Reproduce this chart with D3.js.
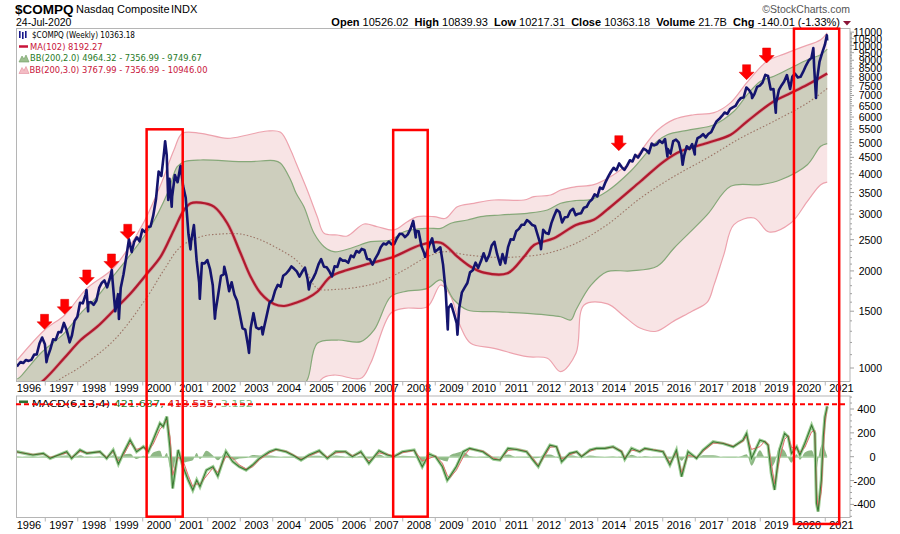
<!DOCTYPE html>
<html><head><meta charset="utf-8">
<script src="https://cdn.jsdelivr.net/npm/d3@7"></script>
<style>
body{margin:0;background:#fff}
svg{display:block}
text{font-family:"Liberation Sans",Arial,sans-serif}
.lg{font-family:"DejaVu Sans",Verdana,sans-serif;font-size:8.5px}
</style>
</head><body><svg id="c" width="900" height="534"></svg>
<script>
// ---------------- DATA ----------------
const yearTicks = d3.range(1996, 2022);
const priceTicks = d3.range(1000, 11001, 500);
const macdTicks = [-400, -200, 0, 200, 400];

// Monthly closes starting Aug 1995 (month-end)
const monthlyClose = [
 1020,1044,1036,1059,1052,
 1060,1100,1101,1191,1243,1185,1081,1142,1227,1222,1293,1291,
 1380,1310,1222,1261,1400,1442,1594,1587,1686,1594,1601,1570,
 1619,1771,1835,1869,1779,1895,1872,1499,1694,1771,1950,2193,
 2505,2288,2461,2543,2471,2686,2638,2739,2746,2967,3336,4069,
 3940,4697,4573,3861,3401,3966,3767,4206,3673,3370,2598,2471,
 2773,2152,1840,2116,2110,2161,2027,1805,1499,1690,1931,1950,
 1934,1731,1845,1688,1616,1463,1328,1315,1172,1330,1479,1336,
 1321,1338,1341,1464,1596,1623,1735,1810,1787,1932,1960,2003,
 2066,2030,1994,1920,1987,2048,1887,1838,1897,1975,2097,2175,
 2062,2052,1999,1922,2068,2057,2185,2152,2152,2120,2233,2205,
 2306,2281,2340,2323,2179,2172,2091,2184,2258,2367,2432,2415,
 2464,2416,2422,2525,2605,2603,2546,2596,2701,2859,2661,2652,
 2389,2271,2279,2413,2523,2293,2326,2368,2092,1721,1536,1577,
 1476,1378,1529,1717,1774,1835,1979,2009,2122,2045,2145,2269,
 2147,2238,2398,2461,2257,2109,2255,2114,2369,2507,2498,2653,
 2700,2782,2781,2874,2835,2774,2756,2579,2415,2684,2620,2605,
 2814,2967,3092,3046,2827,2935,2940,3067,3116,2977,3010,3020,
 3142,3160,3268,3329,3456,3403,3626,3590,3771,3920,4060,4177,
 4104,4308,4199,4115,4243,4408,4370,4580,4493,4631,4792,4736,
 4635,4964,4901,4941,5070,4987,5128,4777,4620,5054,5109,5007,
 4614,4558,4870,4775,4948,4843,5162,5213,5312,5189,5324,5383,
 5615,5825,5912,6048,6199,6140,6348,6429,6496,6728,6874,6903,
 7411,7273,7063,7066,7442,7510,7672,8110,8046,7306,7331,6635,
 7282,7533,7729,8095,7453,8006,8175,7963,7999,8292,8665,8973,
 9151,8567,7700,8890,9490,10058
];
// Intra-month weekly extremes and last bar
const priceSpikes = [
 ["1995-08-18",1010],["1996-07-16",1043],["1997-04-02",1201],["1997-10-09",1745],["1997-10-27",1499],
 ["1998-07-20",2014],["1998-10-08",1419],["2000-03-10",5048],["2000-04-14",3321],["2000-05-23",3164],
 ["2000-09-01",4234],["2000-12-20",2332],["2001-04-04",1639],["2001-09-21",1423],["2002-01-04",2059],
 ["2002-10-09",1114],["2003-03-11",1271],["2004-08-12",1752],["2007-11-26",2540],["2008-03-10",2212],
 ["2008-11-20",1316],["2009-03-09",1268],["2010-07-02",2091],["2011-10-03",2335],["2015-08-24",4526],
 ["2016-02-11",4267],["2016-06-27",4594],["2018-04-02",6870],["2018-08-29",8109],["2018-12-24",6193],
 ["2019-06-03",7333],["2020-02-19",9817],["2020-03-20",6880],["2020-07-20",10767],["2020-07-24",10363]
];

// Bollinger bands (200,3.0), (200,2.0), 200-wk middle, MA(102): [year, value]
const bb3Upper = [[1995.64,1059],[1996.48,1312],[1997.10,1460],[1997.78,1766],[1998.54,2013],[1999.02,2322],[1999.54,2842],[2000.05,3694],[2000.46,4742],[2000.72,5342],[2001.28,5342],[2002.10,5155],[2002.72,5278],[2003.33,5431],[2003.74,5381],[2004.05,4742],[2004.22,4312],[2004.56,3564],[2004.87,2946],[2005.08,2616],[2005.49,2585],[2005.79,2566],[2006.31,2796],[2006.72,2742],[2007.23,2679],[2007.64,2842],[2007.95,2946],[2008.46,2946],[2008.82,2912],[2009.18,3163],[2009.69,3241],[2010.31,3318],[2011.23,3318],[2011.54,3398],[2012.05,3439],[2012.36,3564],[2012.83,3649],[2013.38,3702],[2014.00,3980],[2014.62,4450],[2015.33,5450],[2015.85,5900],[2016.46,6100],[2017.08,6190],[2017.59,6650],[2018.10,7700],[2018.72,8950],[2019.23,9400],[2019.74,9850],[2020.36,10423],[2020.56,10946]];
const bb2Upper = [[1995.64,924],[1995.74,940],[1996.36,1111],[1997.08,1281],[1997.59,1478],[1998.10,1664],[1998.62,1943],[1999.23,2322],[1999.74,2742],[2000.26,3481],[2000.56,4209],[2000.77,4362],[2001.28,4416],[2002.72,4362],[2003.54,4394],[2003.74,4312],[2004.05,3828],[2004.22,3481],[2004.46,3164],[2004.77,2616],[2005.08,2378],[2005.38,2294],[2005.90,2351],[2006.51,2464],[2007.13,2494],[2007.54,2646],[2008.26,2711],[2008.67,2711],[2008.98,2810],[2009.49,2877],[2009.90,2946],[2010.51,2981],[2011.33,3018],[2011.95,3090],[2012.36,3241],[2012.83,3307],[2013.28,3326],[2013.79,3531],[2014.51,4073],[2015.33,5046],[2015.64,5289],[2016.36,5482],[2017.08,5681],[2017.69,6252],[2018.10,7038],[2018.51,7745],[2018.92,8026],[2019.44,8516],[2019.95,9036],[2020.36,9365],[2020.56,9750]];
const bbMiddle = [[1995.63,768],[1997.08,940],[1997.59,1009],[1998.62,1221],[1999.64,1664],[2000.15,2013],[2000.67,2378],[2001.28,2554],[2001.90,2603],[2002.51,2603],[2003.13,2494],[2003.74,2322],[2004.22,2162],[2004.56,1966],[2004.87,1766],[2005.49,1754],[2006.21,1787],[2006.82,1852],[2007.54,2013],[2008.26,2214],[2008.77,2294],[2009.49,2241],[2010.31,2204],[2011.13,2214],[2011.95,2268],[2012.83,2436],[2013.79,2782],[2014.82,3366],[2015.85,3930],[2016.87,4479],[2017.90,5166],[2018.92,5821],[2019.95,6633],[2020.56,7357]];
const bb2Lower = [[1995.64,612],[1996.5,650],[1997.5,560],[1998.5,500],[1999.5,400],[2000.5,400],[2001.28,692],[2002.72,780],[2003.54,720],[2004.22,843],[2004.56,918],[2004.87,1193],[2005.49,1221],[2006.21,1207],[2006.62,1312],[2007.13,1664],[2007.54,1724],[2008.26,1766],[2008.67,1875],[2009.08,1625],[2009.49,1513],[2010.31,1495],[2011.33,1478],[2012.36,1442],[2012.67,1409],[2012.83,1513],[2013.28,1800],[2013.79,1990],[2014.51,2000],[2015.33,2068],[2015.85,2356],[2016.87,2988],[2017.59,3659],[2018.51,3702],[2019.13,3836],[2019.95,4270],[2020.36,4869],[2020.56,4964]];
const bb3Lower = [[1995.64,477],[1997.0,400],[1999.0,300],[2000.5,200],[2002.0,150],[2003.5,200],[2004.5,500],[2004.98,918],[2005.38,951],[2006.21,929],[2006.51,1034],[2007.13,1478],[2007.54,1531],[2008.26,1549],[2008.67,1809],[2008.98,1664],[2009.28,1343],[2009.59,1193],[2010.31,1151],[2011.33,1084],[2011.95,1072],[2012.36,974],[2012.83,1111],[2013.08,1568],[2013.8,1580],[2014.3,1450],[2014.8,1330],[2015.3,1300],[2015.85,1400],[2016.4,1500],[2016.87,1600],[2017.08,1813],[2017.38,2246],[2017.69,2782],[2018.31,2918],[2018.77,2641],[2019.44,2816],[2019.95,3288],[2020.36,3702],[2020.56,3768]];
const ma102 = [[1995.63,790],[1996.46,918],[1997.08,1072],[1997.59,1221],[1998.10,1343],[1998.62,1513],[1999.13,1705],[1999.64,1966],[2000.05,2214],[2000.46,2679],[2000.77,3090],[2000.98,3241],[2001.28,3255],[2001.69,3164],[2002.10,2810],[2002.51,2268],[2002.82,1919],[2003.13,1705],[2003.54,1579],[2003.85,1557],[2004.22,1594],[2004.56,1645],[2004.87,1724],[2005.28,1919],[2005.79,2013],[2006.51,2112],[2007.23,2214],[2008.05,2407],[2008.67,2446],[2009.18,2214],[2009.59,2061],[2010.00,1975],[2010.72,1966],[2011.23,2214],[2011.54,2407],[2012.15,2524],[2012.83,2776],[2013.38,2883],[2013.79,3097],[2014.82,3793],[2015.54,4375],[2016.05,4699],[2016.87,4986],[2017.59,5289],[2018.10,5821],[2018.92,6714],[2019.44,7124],[2019.95,7559],[2020.56,8192]];

// MACD(6,13,4): [year, macd, signal, histogram]
const macdRows = [[1995.62,42,39,3],[1996.12,14,19,-5],[1996.44,28,25,3],[1996.65,-14,-6,-8],[1997.16,42,32,10],[1997.31,-14,-4,-10],[1997.57,56,44,12],[1997.78,28,33,-5],[1998.18,42,39,3],[1998.39,-14,-4,-10],[1998.59,56,44,12],[1998.75,-61,-36,-25],[1998.90,28,10,18],[1999.11,140,115,25],[1999.31,42,62,-20],[1999.52,84,76,8],[1999.67,42,50,-8],[1999.82,140,105,35],[2000.03,280,230,50],[2000.13,252,262,-10],[2000.24,336,306,30],[2000.34,70,165,-95],[2000.42,-266,-156,-110],[2000.59,56,-4,60],[2000.74,-84,-34,-50],[2000.90,-196,-156,-40],[2001.04,-280,-250,-30],[2001.16,-196,-226,30],[2001.26,-252,-232,-20],[2001.46,-112,-162,50],[2001.66,-84,-94,10],[2001.81,-162,-132,-30],[2002.06,42,2,40],[2002.27,-42,-12,-30],[2002.47,-84,-69,-15],[2002.68,-112,-102,-10],[2002.88,-70,-85,15],[2003.09,-14,-24,10],[2003.40,42,32,10],[2003.60,62,58,4],[2003.91,42,46,-4],[2004.11,14,19,-5],[2004.37,-28,-20,-8],[2004.62,14,6,8],[2004.93,50,43,7],[2005.18,-14,-3,-11],[2005.44,42,32,10],[2005.74,42,42,0],[2005.95,0,8,-8],[2006.21,42,34,8],[2006.46,-56,-38,-18],[2006.77,50,32,18],[2007.03,14,21,-7],[2007.23,0,3,-3],[2007.49,42,34,8],[2007.85,56,53,3],[2008.10,-84,-34,-50],[2008.31,22,-15,37],[2008.51,0,8,-8],[2008.72,-84,-54,-30],[2008.87,-196,-156,-40],[2008.95,-167,-177,10],[2009.15,-83,-113,30],[2009.36,42,-3,45],[2009.56,70,65,5],[2009.97,42,47,-5],[2010.29,-22,-11,-11],[2010.49,-28,-27,-1],[2010.74,70,52,18],[2011.00,61,63,-2],[2011.31,42,46,-4],[2011.51,-28,-15,-13],[2011.67,-83,-73,-10],[2011.82,0,-15,15],[2012.03,97,79,18],[2012.23,83,86,-3],[2012.39,-42,-20,-22],[2012.64,28,16,12],[2012.85,42,39,3],[2013.00,0,8,-8],[2013.26,56,46,10],[2013.46,70,67,3],[2013.72,70,70,0],[2013.97,83,80,3],[2014.23,42,50,-8],[2014.33,-22,-10,-12],[2014.54,70,54,16],[2014.79,42,47,-5],[2014.95,70,65,5],[2015.21,56,59,-3],[2015.51,42,45,-3],[2015.72,-70,-50,-20],[2015.92,56,34,22],[2016.08,-167,-132,-35],[2016.28,42,12,30],[2016.54,-14,-4,-10],[2016.74,56,44,12],[2017.05,125,113,12],[2017.36,111,114,-3],[2017.67,83,88,-5],[2017.97,139,129,10],[2018.08,195,175,20],[2018.23,-14,61,-75],[2018.49,139,84,55],[2018.64,125,130,-5],[2018.74,97,107,-10],[2018.84,-139,-54,-85],[2018.94,-278,-228,-50],[2019.09,56,-24,80],[2019.25,195,145,50],[2019.36,167,177,-10],[2019.46,28,78,-50],[2019.62,83,63,20],[2019.72,14,39,-25],[2019.87,111,76,35],[2020.08,264,209,55],[2020.18,195,220,-25],[2020.23,-389,-279,-110],[2020.28,-460,-435,-25],[2020.38,-195,-290,95],[2020.44,167,57,110],[2020.49,333,273,60],[2020.56,422,419,3]];
const macdAlertLevel = 440;

// Annotations
const arrowMarks = [["1996-06-24",1318],["1997-02-06",1467],["1997-10-12",1809],["1998-07-16",2028],["1999-01-15",2507],["2014-02-24",4719],["2018-01-30",7834],["2018-09-12",8825]];
const highlightBoxes = [["1999-08-15","2000-09-24",5497,-503],["2007-03-17","2008-04-08",5470,-503],["2019-07-16","2020-12-06",11276,-564]];

// ---------------- CHART ----------------
const yr = s => { const [Y,M,D] = s.split("-").map(Number); const a = Date.UTC(Y,0,1), b = Date.UTC(Y+1,0,1); return Y + (Date.UTC(Y,M-1,D) - a) / (b - a); };
const price = monthlyClose.map((v,i) => { const m = 7 + i; return [yr(`${1995 + Math.floor(m/12)}-${String(m%12+1).padStart(2,"0")}-28`), v]; })
  .concat(priceSpikes.map(d => [yr(d[0]), d[1]])).sort((a,b) => a[0]-b[0]);

const P = {l:16, r:850, t:28.5, b:381.5, mt:396, mb:517.5};
const x = d3.scaleLinear().domain([1996, 2021]).range([29, 841.5]);
const y = d3.scaleLog().domain([1000, 10000]).range([368, 45.5]);
const ym = d3.scaleLinear().domain([0, 400]).range([456.7, 409]);

const svg = d3.select("#c");
const defs = svg.append("defs");
defs.append("clipPath").attr("id","mclip").append("rect").attr("x",P.l).attr("y",P.t).attr("width",P.r-P.l).attr("height",P.b-P.t);
defs.append("clipPath").attr("id","dclip").append("rect").attr("x",P.l).attr("y",P.mt).attr("width",P.r-P.l).attr("height",P.mb-P.mt);

const line = d3.line().x(d => x(d[0])).y(d => y(d[1])).curve(d3.curveCatmullRom);
const bandPath = (up, lo) => line(up) + "L" + line(lo.slice().reverse()).slice(1) + "Z";

const g = svg.append("g").attr("clip-path","url(#mclip)");
g.append("path").attr("d", bandPath(bb3Upper, bb3Lower)).attr("fill","#f8e4e5");
g.append("path").attr("d", bandPath(bb2Upper, bb2Lower)).attr("fill","#cdcebd");
[[bb3Upper,"#eda3ae"],[bb3Lower,"#eda3ae"],[bb2Upper,"#86a879"],[bb2Lower,"#86a879"]].forEach(([d,c]) =>
  g.append("path").attr("d", line(d)).attr("fill","none").attr("stroke",c).attr("stroke-width",1.2));
g.append("path").attr("d", line(bbMiddle)).attr("fill","none").attr("stroke","#9c7466").attr("stroke-width",1.1).attr("stroke-dasharray","1.5,2");
g.append("path").attr("d", line(ma102)).attr("fill","none").attr("stroke","#d9808c").attr("stroke-width",3.6).attr("opacity",0.7);
g.append("path").attr("d", line(ma102)).attr("fill","none").attr("stroke","#b01a2e").attr("stroke-width",2.2);
const pline = d3.line().x(d => x(d[0])).y(d => y(d[1]));
g.append("path").attr("d", pline(price)).attr("fill","none").attr("stroke","#14146e").attr("stroke-width",2.6).attr("stroke-linejoin","round");

// arrows
arrowMarks.forEach(([d,v]) => {
  const tx = x(yr(d)), ty = y(v);
  svg.append("path").attr("d",
    `M${tx-4},${ty-15}H${tx+4}V${ty-7.5}H${tx+7.5}L${tx},${ty}L${tx-7.5},${ty-7.5}H${tx-4}Z`)
    .attr("fill","#f00").attr("stroke","#e00000").attr("stroke-width",0.5);
});

// MACD panel
const gd = svg.append("g").attr("clip-path","url(#dclip)");
gd.append("path").attr("d", d3.area().x(d => x(d[0])).y0(ym(0)).y1(d => ym(d[3])).curve(d3.curveMonotoneX)(macdRows))
  .attr("fill","#82b078").attr("opacity",0.9);
gd.append("line").attr("x1",P.l).attr("x2",x(macdRows[macdRows.length-1][0])).attr("y1",ym(0)+0.5).attr("y2",ym(0)+0.5).attr("stroke","#9cc894").attr("stroke-width",1);
const ml = d3.line().x(d => x(d[0]));
gd.append("path").attr("d", ml.y(d => ym(d[1]))(macdRows)).attr("fill","none").attr("stroke","#9fcf98").attr("stroke-width",3.2);
gd.append("path").attr("d", ml.y(d => ym(d[2]))(macdRows)).attr("fill","none").attr("stroke","#e06a6a").attr("stroke-width",1);
gd.append("path").attr("d", ml.y(d => ym(d[1]))(macdRows)).attr("fill","none").attr("stroke","#3c7a34").attr("stroke-width",1.1);

// panel frames
[[P.t,P.b],[P.mt,P.mb]].forEach(([t,b]) =>
  svg.append("rect").attr("x",P.l+0.5).attr("y",t).attr("width",P.r-P.l-0.5).attr("height",b-t).attr("fill","none").attr("stroke","#b5b5b5").attr("stroke-width",1));

// right axis main
d3.range(1000, 11001, 100).forEach(v => {
  const major = priceTicks.includes(v);
  svg.append("line").attr("x1",P.r).attr("x2",P.r + (major?4:2)).attr("y1",y(v)).attr("y2",y(v)).attr("stroke","#a0a0a0").attr("stroke-width",1);
});
priceTicks.forEach(v => svg.append("text").attr("x",882).attr("y",y(v)+4).attr("text-anchor","end").attr("font-size",10.5).text(v));
// right axis macd
d3.range(-500, 501, 50).forEach(v => {
  if (ym(v) < P.mt || ym(v) > P.mb) return;
  const major = macdTicks.includes(v);
  svg.append("line").attr("x1",P.r).attr("x2",P.r + (major?4:2)).attr("y1",ym(v)).attr("y2",ym(v)).attr("stroke","#a0a0a0");
});
macdTicks.forEach(v => svg.append("text").attr("x",875.5).attr("y",ym(v)+4).attr("text-anchor","end").attr("font-size",11).text(v));

// x axes
yearTicks.forEach(t => {
  svg.append("text").attr("x",x(t)).attr("y",391.7).attr("text-anchor","middle").attr("font-size",11).text(t);
  svg.append("text").attr("x",x(t)).attr("y",529.3).attr("text-anchor","middle").attr("font-size",11).text(t);
});
d3.range(1995.5, 2021, 1).forEach(t => {
  const xx = x(t); if (xx < P.l || xx > P.r) return;
  svg.append("line").attr("x1",xx).attr("x2",xx).attr("y1",P.b).attr("y2",P.b+4).attr("stroke","#b5b5b5");
  svg.append("line").attr("x1",xx).attr("x2",xx).attr("y1",P.mb).attr("y2",P.mb+4).attr("stroke","#b5b5b5");
});

// header
svg.append("text").attr("x",15).attr("y",13.5).attr("font-size",13.5).attr("font-weight","bold").text("$COMPQ");
svg.append("text").attr("x",76).attr("y",13).attr("font-size",11).text("Nasdaq Composite");
svg.append("text").attr("x",171).attr("y",13).attr("font-size",11).text("INDX");
svg.append("text").attr("x",16).attr("y",25.5).attr("font-size",10.5).text("24-Jul-2020");
svg.append("text").attr("x",850).attr("y",12.5).attr("font-size",10.5).attr("text-anchor","end").attr("fill","#555").text("\u00A9StockCharts.com");
const hdr = svg.append("text").attr("x",840).attr("y",25.5).attr("font-size",11).attr("text-anchor","end").style("white-space","pre");
[["Open",1],[" 10526.02  ",0],["High",1],[" 10839.93  ",0],["Low",1],[" 10217.31  ",0],["Close",1],[" 10363.18  ",0],["Volume",1],[" 21.7B  ",0],["Chg",1],[" -140.01 (-1.33%)",0]]
  .forEach(([s,b]) => hdr.append("tspan").attr("font-weight", b ? "bold" : "normal").text(s));
svg.append("path").attr("d","M843,21H851L847,25.5Z").attr("fill","#8b1538");

// main legend
svg.append("g").selectAll("rect").data([0,1,2]).join("rect")
  .attr("x",d => 19 + d*3).attr("y",d => 31 + (d%2)).attr("width",1.6).attr("height",7).attr("fill","#1a1a8c");
svg.append("text").attr("class","lg").attr("x",32).attr("y",38).attr("fill","#000").attr("textLength",103).attr("lengthAdjust","spacingAndGlyphs").text("$COMPQ (Weekly) 10363.18");
svg.append("line").attr("x1",19).attr("x2",28).attr("y1",46.5).attr("y2",46.5).attr("stroke","#c8143a").attr("stroke-width",2.5);
svg.append("text").attr("class","lg").attr("x",30).attr("y",49.5).attr("fill","#c8143a").attr("textLength",72.7).attr("lengthAdjust","spacingAndGlyphs").text("MA(102) 8192.27");
svg.append("path").attr("d","M19,62L22,56L24,59L26,55L29,62Z").attr("fill","#9cbf8e").attr("stroke","#6f9c62").attr("stroke-width",0.6);
svg.append("text").attr("class","lg").attr("x",30).attr("y",61).attr("fill","#1f7a1f").attr("textLength",171.7).attr("lengthAdjust","spacingAndGlyphs").text("BB(200,2.0) 4964.32 - 7356.99 - 9749.67");
svg.append("path").attr("d","M19,73.5L22,67.5L24,70.5L26,66.5L29,73.5Z").attr("fill","#f3bcc4").attr("stroke","#e08a98").attr("stroke-width",0.6);
svg.append("text").attr("class","lg").attr("x",29.5).attr("y",72.5).attr("fill","#c8143a").attr("textLength",178).attr("lengthAdjust","spacingAndGlyphs").text("BB(200,3.0) 3767.99 - 7356.99 - 10946.00");

// MACD legend
svg.append("rect").attr("x",19).attr("y",400.5).attr("width",9).attr("height",2.6).attr("fill","#2f6f2f");
const ml2 = svg.append("text").attr("class","lg").attr("x",32).attr("y",406.5).attr("font-size",9.5).style("font-size","9.5px").style("white-space","pre").attr("textLength",221).attr("lengthAdjust","spacingAndGlyphs");
[["MACD(6,13,4) ","#000"],["421.637, ","#2a7a2a"],["418.535, ","#cc2222"],["3.152","#7ab87a"]].forEach(([s,c]) => ml2.append("tspan").attr("fill",c).text(s));

// red dashed alert line
svg.append("line").attr("x1",P.l).attr("x2",P.r-2).attr("y1",ym(macdAlertLevel)).attr("y2",ym(macdAlertLevel))
  .attr("stroke","#f00").attr("stroke-width",2).attr("stroke-dasharray","5,3");

// highlight boxes
highlightBoxes.forEach(([a,b,top,bot]) => {
  const x0 = x(yr(a)), x1 = x(yr(b)), y0 = y(top), y1 = ym(bot);
  svg.append("rect").attr("x",x0).attr("y",y0).attr("width",x1-x0).attr("height",y1-y0)
    .attr("fill","none").attr("stroke","#f00").attr("stroke-width",2.5);
});
</script></body></html>
